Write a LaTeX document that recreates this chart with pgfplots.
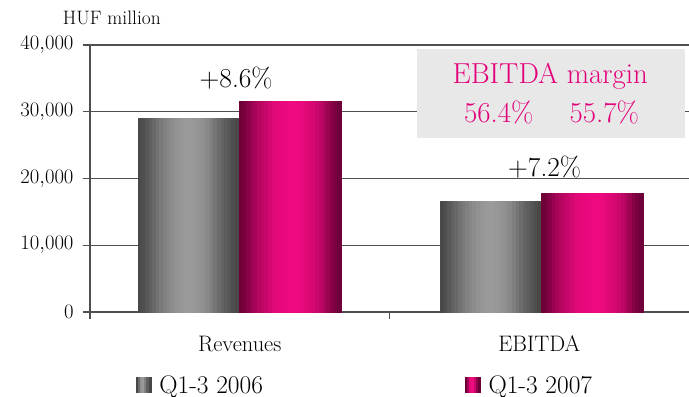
\documentclass[border=0pt]{standalone}
\usepackage{pgfplots}
\pgfplotsset{compat=1.18}

\definecolor{axisgray}{HTML}{4F4F4F}
\definecolor{gdark}{HTML}{474747}
\definecolor{glight}{HTML}{9A9A9A}
\definecolor{mdark}{HTML}{6A0036}
\definecolor{mlight}{HTML}{F00A80}
\definecolor{tmagenta}{HTML}{E2007A}
\definecolor{boxgray}{HTML}{E8E8E8}

% Cylinder-like colour profiles across a bar (percent of the light colour)
\def\grayprofile{3,10,20,30,40,52,62,70,77,83,89,94,98,100,100,98,95,90,85,78,68,55,45,35,27,18,9,3}
\def\magprofile{3,10,22,34,45,55,63,70,78,86,90,93,95,97,99,100,98,94,89,84,79,73,63,50,36,22,12,4}

% A bar from x=#1 to x=#2 of height #3, filled in 28 vertical stripes
\newcounter{stripe}
\newcommand\stripedbar[6]{%
  \edef\stripelist{#6}%
  \expandafter\stripedbarA\expandafter{\stripelist}{#1}{#2}{#3}{#4}{#5}%
}
\newcommand\stripedbarA[6]{%
  \setcounter{stripe}{0}%
  \pgfplotsforeachungrouped \p in {#1} {%
    \pgfmathsetmacro\xa{#2+(#3-#2)*\arabic{stripe}/28}%
    \stepcounter{stripe}%
    \pgfmathsetmacro\xb{#2+(#3-#2)*\arabic{stripe}/28}%
    \edef\next{\noexpand\addplot[forget plot, draw=#6!\p!#5, line width=0.3bp, fill=#6!\p!#5]
      coordinates {(\xa,#4) (\xb,#4)} \noexpand\closedcycle;}%
    \next
  }%
}

\begin{document}
\begin{tikzpicture}
\begin{axis}[
  name=ax, at={(0,0)}, anchor=south west,
  scale only axis, width=599bp, height=267bp,
  xmin=-0.5, xmax=1.5, ymin=0, ymax=40000,
  axis lines*=left,
  axis line style={axisgray, line width=1.5bp},
  ymajorgrids, grid style={axisgray, line width=1.2bp},
  ytick={0,10000,20000,30000,40000},
  scaled y ticks=false,
  yticklabel style={font=\fontsize{22.5}{24}\selectfont, xshift=-6bp},
  xtick={-0.5,0.5}, xticklabels={,},
  extra x ticks={0,1}, extra x tick labels={Revenues,EBITDA},
  extra x tick style={major tick length=0pt},
  xticklabel style={font=\fontsize{22.5}{26}\selectfont, anchor=base, yshift=-39bp},
  tick align=outside, major tick length=7bp,
  tick style={axisgray, line width=1.5bp},
  legend style={at={(0.459,-0.273)}, anchor=center, draw=none, fill=none,
    legend columns=2, font=\fontsize{25.5}{28}\selectfont,
    /tikz/every odd column/.append style={column sep=6bp},
    /tikz/every even column/.append style={column sep=200bp}},
  clip=false,
]
% Q1-3 2006: Revenues 29,100; EBITDA 16,570
\stripedbar{-0.340}{-0.003}{29100}{gdark}{glight}{\grayprofile}
\stripedbar{0.669}{1.006}{16570}{gdark}{glight}{\grayprofile}
% Q1-3 2007: Revenues 31,600; EBITDA 17,760
\stripedbar{-0.003}{0.338}{31600}{mdark}{mlight}{\magprofile}
\stripedbar{1.006}{1.346}{17760}{mdark}{mlight}{\magprofile}

\addlegendimage{legend image code/.code={
  \foreach \q [count=\k from 0] in {0,45,90,100,70,30,0}
    \fill[glight!\q!gdark] ({\k*15/7*1bp},-7.5bp) rectangle ({(\k+1)*15/7*1bp+0.2bp},7.5bp);}}
\addlegendentry{Q1-3 2006}
\addlegendimage{legend image code/.code={
  \foreach \q [count=\k from 0] in {0,45,90,100,70,30,0}
    \fill[mlight!\q!mdark] ({\k*15/7*1bp},-7.5bp) rectangle ({(\k+1)*15/7*1bp+0.2bp},7.5bp);}}
\addlegendentry{Q1-3 2007}

% Growth labels
\node[anchor=base, font=\fontsize{27.5}{32}\selectfont] at (axis cs:-0.012,33700) {+8.6\%};
\node[anchor=base, font=\fontsize{27.5}{32}\selectfont] at (axis cs:1.018,20370) {+7.2\%};

% EBITDA margin box
\fill[boxgray] (axis cs:0.592,26070) rectangle (axis cs:1.487,39400);
\node[anchor=base, text=tmagenta, font=\fontsize{29}{34}\selectfont] at (axis cs:1.037,34160) {EBITDA margin};
\node[anchor=base, text=tmagenta, font=\fontsize{29}{34}\selectfont] at (axis cs:0.865,28460) {56.4\%};
\node[anchor=base, text=tmagenta, font=\fontsize{29}{34}\selectfont] at (axis cs:1.217,28460) {55.7\%};

% Unit label
\node[anchor=base, font=\fontsize{19.5}{22}\selectfont] at (axis cs:-0.427,43000) {HUF million};
\end{axis}
\pgfresetboundingbox
\path[use as bounding box] ([xshift=-90bp,yshift=-85bp]ax.south west) rectangle ([yshift=45bp]ax.north east);
\end{tikzpicture}
\end{document}
